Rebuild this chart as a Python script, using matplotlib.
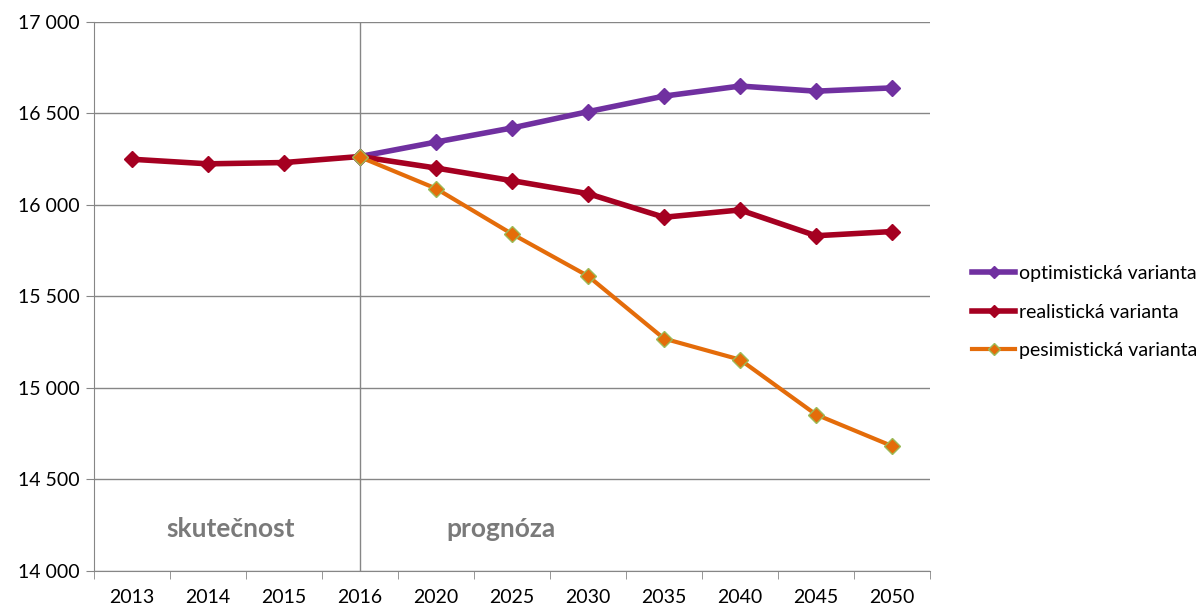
#!/usr/bin/env python3

import matplotlib
matplotlib.use('agg')
import matplotlib.pyplot as plt
from matplotlib.ticker import FixedLocator, FuncFormatter

plt.rcParams['font.family'] = ['Lato', 'DejaVu Sans']

years = ['2013', '2014', '2015', '2016', '2020', '2025', '2030', '2035', '2040', '2045', '2050']

# actual + realistic forecast
realisticka = [16250, 16225, 16232, 16265, 16202, 16133, 16062, 15933, 15973, 15832, 15855]
# optimistic / pessimistic start from 2016
optimisticka = [None, None, None, 16265, 16344, 16421, 16510, 16595, 16650, 16622, 16640]
pesimisticka = [None, None, None, 16262, 16090, 15842, 15612, 15270, 15155, 14855, 14683]

yticks = [14000, 14500, 15000, 15500, 16000, 16500, 17000]

fig = plt.figure(figsize=(12.0, 6.07), dpi=100)
ax = fig.add_axes([94/1200, 1 - 571/607, (930-94)/1200, (571-22)/607])

x = list(range(len(years)))

def pts(vals):
    xs = [i for i, v in zip(x, vals) if v is not None]
    ys = [v for v in vals if v is not None]
    return xs, ys

xo, yo = pts(optimisticka)
ax.plot(xo, yo, color='#7030A0', lw=4, marker='D', markersize=8,
        markerfacecolor='#7030A0', markeredgecolor='#7030A0', label='optimistická varianta', zorder=3)
xr, yr = pts(realisticka)
ax.plot(xr, yr, color='#A50021', lw=4, marker='D', markersize=8,
        markerfacecolor='#A50021', markeredgecolor='#A50021', label='realistická varianta', zorder=4)
xp, yp = pts(pesimisticka)
ax.plot(xp, yp, color='#E46C0A', lw=3, marker='D', markersize=8,
        markerfacecolor='#E46C0A', markeredgecolor='#9BBB59', markeredgewidth=1, label='pesimistická varianta', zorder=5)

ax.set_xlim(-0.5, len(years) - 0.5)
ax.set_ylim(14000, 17000)
ax.yaxis.set_major_locator(FixedLocator(yticks))
ax.yaxis.set_major_formatter(FuncFormatter(lambda v, p: '{:,.0f}'.format(v).replace(',', ' ')))
ax.set_xticks(x)
ax.set_xticklabels(years)
ax.set_xticks([i - 0.5 for i in range(len(years) + 1)], minor=True)
ax.tick_params(axis='x', which='major', length=0, pad=13, labelsize=14)
ax.tick_params(axis='x', which='minor', length=6, color='#868686')
ax.tick_params(axis='y', length=6, color='#868686', labelsize=14, pad=4)

ax.grid(axis='y', color='#868686', lw=1)
ax.set_axisbelow(True)
for s in ['top', 'right']:
    ax.spines[s].set_visible(False)
ax.spines['left'].set_color('#868686')
ax.spines['bottom'].set_color('#868686')
ax.axvline(3, color='#868686', lw=1, zorder=1)

ax.text(1.3, 14230, 'skutečnost', fontsize=19, fontweight='bold', color='#7A7A7A', ha='center', va='center')
ax.text(4.85, 14230, 'prognóza', fontsize=19, fontweight='bold', color='#7A7A7A', ha='center', va='center')

fig.legend(loc='center left', bbox_to_anchor=(955/1200, 1 - 312/607), frameon=False,
           fontsize=14, handlelength=2.2, handletextpad=0.2, labelspacing=1.1, markerscale=0.8)

plt.savefig('out.png', dpi=100)
